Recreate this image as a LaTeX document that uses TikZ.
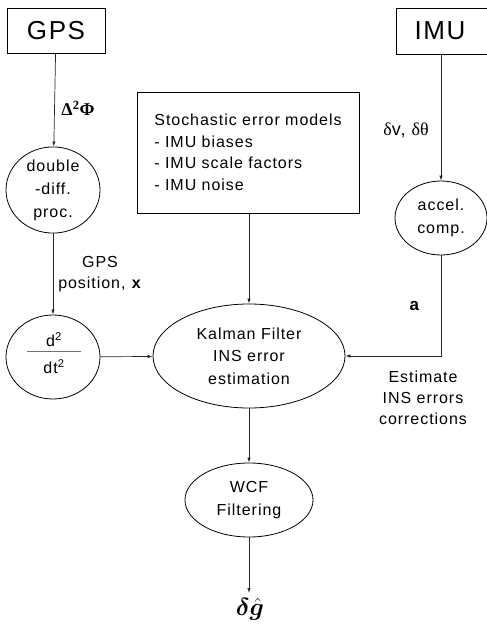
\documentclass[tikz,border=0pt]{standalone}
\usepackage{fontspec}
\usepackage{amsmath,bm}
\setmainfont{Liberation Sans}[LetterSpace=6]
\newfontfamily\grk{Liberation Serif}
\usetikzlibrary{shapes.geometric,arrows.meta}
\tikzset{
  conn/.style={draw=black!85, line width=0.7bp, -{Latex[length=5bp,width=3.4bp]}},
  srcbox/.style={draw, line width=0.8bp, rectangle, inner sep=0, font=\fontsize{26bp}{28bp}\selectfont},
  infobox/.style={draw, line width=0.8bp, rectangle, inner sep=0, align=left, font=\fontsize{16bp}{21.5bp}\selectfont},
  proc/.style={draw, line width=0.8bp, ellipse, inner sep=0, align=center, font=\fontsize{16bp}{23bp}\selectfont},
  lbl/.style={inner sep=0, align=center, font=\fontsize{16bp}{21.5bp}\selectfont},
}
\begin{document}
\begin{tikzpicture}[x=1bp,y=-1bp]
\useasboundingbox (0,0) rectangle (487,631);

% sources
\node[srcbox, minimum width=98bp, minimum height=45bp] (gps) at (56,30.5) {GPS};
\node[srcbox, minimum width=96bp, minimum height=46bp] (imu) at (444,31) {\hspace*{-8bp}IMU};

% error model box
\node[infobox, minimum width=222bp, minimum height=121bp] (stoch) at (248,152.5)
  {Stochastic error models\\- IMU biases\\- IMU scale factors\\- IMU noise};

% processing blocks
\node[proc, minimum width=94bp, minimum height=84bp] (dd) at (53,190) {double\\-diff.\\proc.};
\node[proc, minimum width=94bp, minimum height=84bp] (d2) at (53,357) {};
\node[lbl] (d2num) at (54,340) {d\textsuperscript{2}};
\node[lbl] (d2den) at (54,367) {dt\textsuperscript{2}};
\draw[black!55, line width=1.6bp] (27,351.5) -- (81,351.5);
\node[proc, minimum width=92bp, minimum height=74bp] (acc) at (441,218) {accel.\\comp.};
\node[proc, minimum width=192bp, minimum height=104bp, font=\fontsize{16bp}{22.5bp}\selectfont] (kf) at (249,356)
  {Kalman Filter\\INS error\\estimation};
\node[proc, minimum width=128bp, minimum height=74bp] (wcf) at (249,500) {WCF\\Filtering};

% output
\coordinate (out) at (249,593);
\node[inner sep=0, anchor=north] (dg) at (250,598) {\fontsize{29bp}{30bp}\selectfont$\bm{\delta\hat{g}}$};

% connectors
\draw[conn] (gps) -- (dd);
\draw[conn] (dd) -- (d2);
\draw[conn] (d2) -- (kf);
\draw[conn] (stoch.south -| kf.north) -- (kf.north);
\draw[conn] (imu.south -| acc.north) -- (acc.north);
\draw[conn] (acc.south) |- (kf.east);
\draw[conn] (kf) -- (wcf);
\draw[conn] (wcf) -- (out);

% signal labels
\node[lbl, font=\fontsize{18bp}{20bp}\selectfont] (phi) at (78,108) {\grk\bfseries Δ\textsuperscript{2}Φ};
\node[lbl] (pos) at (100,274) {GPS\\position, \textbf{x}};
\node[lbl, font=\fontsize{18bp}{20bp}\selectfont] (dvt) at (406,130) {{\grk δ}v, {\grk δθ}};
\node[lbl, font=\fontsize{17bp}{20bp}\selectfont] (acl) at (415,306) {\textbf{a}};
\node[lbl, font=\fontsize{16bp}{21bp}\selectfont] (est) at (423,398) {Estimate\\INS errors\\corrections};
\end{tikzpicture}
\end{document}
